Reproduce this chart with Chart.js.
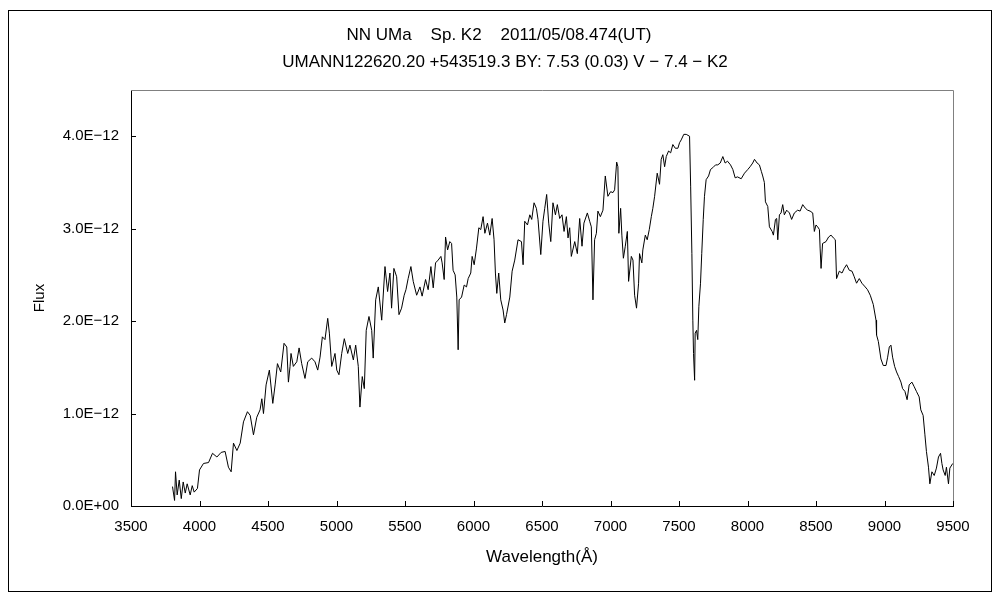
<!DOCTYPE html>
<html>
<head>
<meta charset="utf-8">
<script src="https://cdn.jsdelivr.net/npm/chart.js@4.4.1/dist/chart.umd.min.js"></script>
<style>
  html, body { margin: 0; padding: 0; background: #fff; }
  #wrap { width: 1000px; height: 600px; }
</style>
</head>
<body>
<div id="wrap"><canvas id="spec" width="1000" height="600"></canvas></div>
<script>
// Заголовки
const titleLine1 = 'NN UMa    Sp. K2    2011/05/08.474(UT)';
const titleLine2 = 'UMANN122620.20 +543519.3 BY: 7.53 (0.03) V \u2212 7.4 \u2212 K2';

// Длины волн (Å)
const wavelength = [
  3803,3818,3825,3837,3852,3867,3881,3896,3910,3932,3947,3961,3985,4000,4029,4066,4095,4127,4158,4187,
  4211,4231,4248,4273,4297,4321,4350,4370,4394,4418,4442,4455,4467,4486,4510,4535,4552,4569,4593,4617,
  4637,4649,4661,
  4668,4685,4710,4727,4746,4770,4790,4819,4843,4863,4880,4897,4916,4936,4948,4965,4989,5002,5018,5038,
  5057,5082,5098,5123,5140,5159,5171,5188,5203,5217,5237,5257,5268,5286,5305,5330,5354,5373,5390,5402,
  5419,5439,5456,5475,5494,5507,5523,
  5543,5560,5585,5609,5625,5650,5669,5689,5706,5723,5742,5762,5771,5786,5796,5811,5827,5840,5851,5866,
  5878,5888,5895,5913,5932,5949,5961,5980,5990,6005,6022,6039,6053,6070,6083,6102,6119,6136,6150,6160,
  6170,6184,6199,6216,6228,6241,6265,6282,6301,6325,6350,6362,6374,6394,6411,
  6425,6442,6459,6471,6491,6507,6520,6534,6549,6564,6580,6598,6612,6629,6646,6661,6678,6690,6702,6714,
  6739,6758,6775,6792,6806,6831,6848,6860,6872,6884,6897,6908,6926,6945,6962,6981,7001,7018,7030,7045,
  7054,7061,7074,7083,7094,7108,7123,7132,7152,7164,7176,7190,7205,7212,7229,7236,7254,
  7268,7283,7298,7309,7322,7341,7358,7370,7382,7395,7407,7424,7439,7455,7473,7492,7504,7516,7535,7553,
  7577,7585,7594,7601,7606,7614,7618,7628,7637,7645,7657,7666,7677,7686,7698,7716,7730,7747,7767,7783,
  7801,7820,7837,7854,7876,7893,7910,7927,7954,7978,8002,8019,8038,8051,8070,8087,
  8101,8111,8123,8131,8148,8160,8180,8189,8204,8213,8221,8233,8245,8257,8269,8286,8306,8322,8342,8366,
  8384,8403,8423,8439,8457,8476,8488,8500,8512,8525,8530,8537,8548,8573,8592,8610,8627,8641,8650,8670,
  8690,8706,8723,8743,8763,8779,8796,8816,8835,8859,8876,8896,8918,
  8938,8942,8955,8974,8991,9011,9023,9035,9047,9059,9074,9088,9103,9120,9132,9149,9165,9180,9200,9217,
  9233,9253,9265,9282,9295,9306,9321,9331,9346,9363,9379,9394,9409,9419,9428,9443,9452,9467,9477,9498
];

// Поток, в единицах 1E-12
const flux = [
  0.21,0.06,0.37,0.12,0.28,0.08,0.26,0.14,0.24,0.12,0.22,0.15,0.19,0.39,0.46,0.47,0.57,0.53,0.58,0.59,
  0.42,0.37,0.68,0.60,0.68,0.91,1.02,0.98,0.77,0.96,1.04,1.16,1.00,1.31,1.47,1.11,1.31,1.54,1.45,1.76,
  1.72,1.34,1.51,
  1.65,1.51,1.56,1.71,1.54,1.38,1.56,1.60,1.56,1.47,1.61,1.83,1.80,2.03,1.87,1.51,1.65,1.47,1.42,1.65,
  1.81,1.65,1.74,1.58,1.74,1.51,1.07,1.40,1.27,1.90,2.05,1.90,1.60,2.23,2.37,2.01,2.59,2.32,2.52,2.14,
  2.57,2.48,2.07,2.14,2.28,2.34,2.46,
  2.59,2.43,2.28,2.37,2.27,2.45,2.34,2.59,2.36,2.63,2.66,2.70,2.63,2.45,2.91,2.77,2.86,2.84,2.55,2.50,
  2.26,1.69,2.23,2.26,2.39,2.37,2.46,2.52,2.70,2.61,2.79,3.01,2.99,3.13,2.95,3.06,2.93,3.11,2.88,2.52,
  2.30,2.52,2.23,2.12,1.98,2.07,2.26,2.54,2.66,2.88,2.86,2.61,3.08,3.04,3.15,
  3.10,3.28,3.22,3.10,2.72,3.08,3.22,3.37,3.06,2.86,3.28,3.15,3.26,3.11,3.15,2.97,3.13,2.90,3.01,2.70,
  2.86,2.73,3.11,2.81,3.06,3.17,3.08,3.02,2.23,2.88,2.95,3.19,3.13,3.20,3.57,3.35,3.40,3.39,3.42,3.72,
  3.67,2.95,3.22,2.93,2.68,2.81,2.97,2.43,2.70,2.66,2.28,2.14,2.41,2.73,2.63,2.77,2.93,
  2.88,2.99,3.13,3.22,3.35,3.60,3.48,3.75,3.80,3.67,3.78,3.84,3.82,3.91,3.87,3.87,3.93,3.96,4.02,4.02,
  4.00,3.46,2.73,2.01,1.65,1.36,1.87,1.90,1.80,2.16,2.41,2.73,3.10,3.35,3.53,3.57,3.64,3.66,3.69,3.69,
  3.71,3.78,3.71,3.73,3.69,3.64,3.55,3.56,3.54,3.60,3.64,3.67,3.71,3.75,3.71,3.69,
  3.62,3.57,3.50,3.29,3.24,3.02,2.97,2.93,3.10,3.11,2.88,3.15,3.17,3.26,3.15,3.20,3.17,3.10,3.17,3.20,
  3.19,3.26,3.22,3.20,3.19,3.17,2.97,3.04,3.02,2.99,2.79,2.57,2.84,2.86,2.91,2.93,2.90,2.88,2.46,2.54,
  2.52,2.57,2.61,2.55,2.54,2.48,2.41,2.46,2.41,2.37,2.34,2.28,2.18,
  2.01,1.85,1.78,1.59,1.52,1.52,1.61,1.72,1.74,1.61,1.51,1.45,1.40,1.34,1.27,1.24,1.15,1.31,1.34,1.29,
  1.24,1.18,1.04,0.98,0.77,0.59,0.42,0.24,0.37,0.33,0.41,0.53,0.57,0.46,0.39,0.33,0.42,0.24,0.41,0.46
];

// Оси
const xMin = 3500, xMax = 9500, xStep = 500;
const yMin = 0, yMax = 4.5, yStep = 1;   // E-12
const yTickMax = 4;

const FONT = '"Liberation Sans", Arial, sans-serif';

function yLabel(v) {
    if (v === 0) return '0.0E+00';
    return v.toFixed(1) + 'E\u221212';
}

// Рамка вокруг картинки, заголовки, серые верх/право, внутренние риски
const framePlugin = {
    id: 'frame',
    beforeDraw(chart) {
        const ctx = chart.ctx;
        ctx.save();
        ctx.fillStyle = '#fff';
        ctx.fillRect(0, 0, chart.width, chart.height);
        ctx.strokeStyle = '#000';
        ctx.lineWidth = 1;
        ctx.strokeRect(8.5, 10.5, 983, 581);
        ctx.fillStyle = '#000';
        ctx.font = '17px ' + FONT;
        ctx.textAlign = 'center';
        ctx.textBaseline = 'middle';
        ctx.fillText(titleLine1, 499, 35);
        ctx.fillText(titleLine2, 505, 62);
        ctx.restore();
    },
    afterDatasetsDraw(chart) {
        const ctx = chart.ctx;
        const a = chart.chartArea;
        const xs = chart.scales.x, ys = chart.scales.y;
        ctx.save();
        ctx.strokeStyle = '#808080';
        ctx.lineWidth = 1;
        ctx.beginPath();
        ctx.moveTo(a.left, Math.round(a.top) + 0.5);
        ctx.lineTo(Math.round(a.right) + 0.5, Math.round(a.top) + 0.5);
        ctx.lineTo(Math.round(a.right) + 0.5, a.bottom);
        ctx.stroke();
        ctx.strokeStyle = '#000';
        ctx.beginPath();
        xs.ticks.forEach((t, i) => {
            const px = Math.round(xs.getPixelForTick(i)) + 0.5;
            ctx.moveTo(px, a.bottom);
            ctx.lineTo(px, a.bottom - 5);
        });
        ys.ticks.forEach((t, i) => {
            const py = Math.round(ys.getPixelForTick(i)) + 0.5;
            ctx.moveTo(a.left, py);
            ctx.lineTo(a.left + 5, py);
        });
        ctx.stroke();
        ctx.restore();
    }
};

window.onload = () => {
    const ctx = document.getElementById('spec').getContext('2d');
    new Chart(ctx, {
        type: 'line',
        data: {
            datasets: [{
                data: wavelength.map((w, i) => ({ x: w, y: flux[i] })),
                borderColor: '#000',
                borderWidth: 1,
                pointRadius: 0,
                tension: 0,
                fill: false
            }]
        },
        options: {
            responsive: false,
            animation: false,
            devicePixelRatio: 1,
            layout: { padding: { top: 90, right: 47, bottom: 0, left: 0 } },
            plugins: { legend: { display: false }, tooltip: { enabled: false } },
            scales: {
                x: {
                    type: 'linear',
                    min: xMin, max: xMax,
                    afterFit: s => { s.height = 94; },
                    ticks: { stepSize: xStep, padding: 12, color: '#000', maxRotation: 0,
                             font: { family: FONT, size: 15 }, callback: v => String(v) },
                    grid: { display: false, drawTicks: false },
                    border: { display: true, color: '#000', width: 1 },
                    title: { display: true, text: 'Wavelength(Å)', color: '#000',
                             font: { family: FONT, size: 17 }, padding: { top: 0, bottom: 32 } }
                },
                y: {
                    type: 'linear',
                    min: yMin, max: yMax,
                    afterFit: s => { s.width = 131; },
                    afterBuildTicks: s => { s.ticks = s.ticks.filter(t => t.value <= yTickMax); },
                    ticks: { stepSize: yStep, padding: 12, color: '#000',
                             font: { family: FONT, size: 15 }, callback: v => yLabel(v) },
                    grid: { display: false, drawTicks: false },
                    border: { display: true, color: '#000', width: 1 },
                    title: { display: true, text: 'Flux', color: '#000',
                             font: { family: FONT, size: 15 }, padding: { top: 31, bottom: 0 } }
                }
            }
        },
        plugins: [framePlugin]
    });
};
</script>
</body>
</html>
